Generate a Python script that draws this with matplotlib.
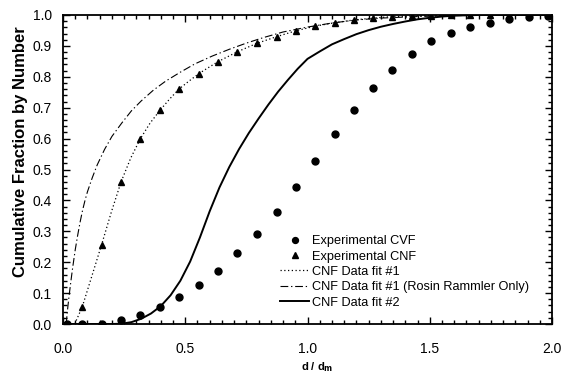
import matplotlib
matplotlib.use("Agg")
import matplotlib.pyplot as plt
from matplotlib.ticker import MultipleLocator, FormatStrFormatter
from matplotlib.legend_handler import HandlerLine2D

plt.rcParams['font.family'] = ['Liberation Sans', 'DejaVu Sans']

# Experimental cumulative fractions (volume and number) vs normalised diameter
d_exp = [0.016, 0.079, 0.158, 0.238, 0.316, 0.397, 0.474, 0.555, 0.634, 0.713,
         0.792, 0.874, 0.953, 1.032, 1.111, 1.190, 1.269, 1.347, 1.427, 1.506,
         1.586, 1.665, 1.745, 1.824, 1.905, 1.985]
cvf_exp = [0.0, 0.0, 0.001, 0.012, 0.029, 0.054, 0.086, 0.126, 0.172, 0.229,
           0.291, 0.362, 0.443, 0.528, 0.616, 0.694, 0.765, 0.822, 0.875, 0.917,
           0.943, 0.961, 0.975, 0.986, 0.993, 0.997]
cnf_exp = [0.0, 0.056, 0.257, 0.461, 0.599, 0.692, 0.760, 0.810, 0.849, 0.881,
           0.908, 0.930, 0.949, 0.964, 0.975, 0.984, 0.990, 0.995, 0.997, 0.998,
           0.999, 1.0, 1.0, 1.0, 1.0, 1.0]

# CNF fit #1
fit1_d = [0.048, 0.079, 0.118, 0.158, 0.198, 0.238, 0.277, 0.316, 0.356, 0.397,
          0.436, 0.474, 0.515, 0.555, 0.595, 0.634, 0.713, 0.792, 0.874, 0.953,
          1.032, 1.111, 1.190, 1.269, 1.347, 1.427, 1.506, 1.60, 1.80, 2.0]
fit1_f = [0.0, 0.056, 0.155, 0.257, 0.363, 0.461, 0.537, 0.599, 0.650, 0.692,
          0.728, 0.760, 0.786, 0.810, 0.830, 0.849, 0.881, 0.908, 0.930, 0.949,
          0.964, 0.975, 0.984, 0.990, 0.995, 0.997, 0.998, 0.999, 1.0, 1.0]

# CNF fit #1, Rosin-Rammler part only
rr_d = [0.013, 0.016, 0.020, 0.025, 0.030, 0.035, 0.040, 0.050, 0.060, 0.070,
        0.080, 0.090, 0.100, 0.120, 0.140, 0.170, 0.200, 0.240, 0.280, 0.320,
        0.370, 0.420, 0.480, 0.540, 0.610, 0.680, 0.750, 0.820, 0.900, 1.000,
        1.100, 1.200, 1.300, 1.450, 1.600, 1.800, 2.000]
rr_f = [0.0, 0.025, 0.057, 0.092, 0.124, 0.155, 0.185, 0.240, 0.287, 0.330,
        0.368, 0.400, 0.428, 0.474, 0.515, 0.565, 0.607, 0.650, 0.690, 0.722,
        0.757, 0.786, 0.815, 0.842, 0.867, 0.889, 0.909, 0.927, 0.945, 0.961,
        0.974, 0.984, 0.990, 0.995, 0.998, 1.0, 1.0]

# CNF fit #2
fit2_d = [0.0, 0.20, 0.24, 0.28, 0.32, 0.36, 0.40, 0.44, 0.48, 0.52,
          0.56, 0.60, 0.64, 0.68, 0.72, 0.76, 0.80, 0.84, 0.88, 0.92,
          0.96, 1.00, 1.05, 1.10, 1.15, 1.20, 1.25, 1.30, 1.35, 1.40,
          1.45, 1.50, 1.55, 1.60, 1.65, 1.70, 2.0]
fit2_f = [0.0, 0.0, 0.001, 0.006, 0.017, 0.034, 0.058, 0.093, 0.140, 0.202,
          0.280, 0.365, 0.442, 0.508, 0.566, 0.618, 0.665, 0.710, 0.752, 0.790,
          0.826, 0.858, 0.882, 0.905, 0.922, 0.938, 0.951, 0.962, 0.971, 0.979,
          0.986, 0.991, 0.995, 0.998, 0.999, 1.0, 1.0]

x_ticks = [0.0, 0.5, 1.0, 1.5, 2.0]
y_ticks = [0.0, 0.1, 0.2, 0.3, 0.4, 0.5, 0.6, 0.7, 0.8, 0.9, 1.0]


class LeftMarkerHandler(HandlerLine2D):
    """Legend handler that puts a single marker near the left of the handle."""

    def get_xdata(self, legend, xdescent, ydescent, width, height, fontsize):
        xdata, _ = super().get_xdata(legend, xdescent, ydescent, width,
                                     height, fontsize)
        return xdata, [-xdescent + 0.28 * width]


fig = plt.figure(figsize=(5.61, 3.76), dpi=100)
ax = fig.add_axes([63 / 561, 1 - 324 / 376, 489 / 561, 309 / 376])

h_cvf, = ax.plot(d_exp, cvf_exp, linestyle='none', marker='o', color='black',
                 markersize=5, label='Experimental CVF', zorder=4)
h_cnf, = ax.plot(d_exp, cnf_exp, linestyle='none', marker='^', color='black',
                 markersize=5, label='Experimental CNF', zorder=4)
ax.plot(fit1_d, fit1_f, color='black', linewidth=0.9,
        linestyle=(0, (1, 2)), label='CNF Data fit #1')
ax.plot(rr_d, rr_f, color='black', linewidth=0.8,
        linestyle=(0, (7, 2.5, 1.2, 2.5)),
        label='CNF Data fit #1 (Rosin Rammler Only)')
ax.plot(fit2_d, fit2_f, color='black', linewidth=1.4, label='CNF Data fit #2')

ax.set_xlim(0, 2.0)
ax.set_ylim(0, 1.0)
ax.set_xticks(x_ticks)
ax.set_yticks(y_ticks)
ax.xaxis.set_major_formatter(FormatStrFormatter('%.1f'))
ax.yaxis.set_major_formatter(FormatStrFormatter('%.1f'))
ax.xaxis.set_minor_locator(MultipleLocator(0.05))
ax.yaxis.set_minor_locator(MultipleLocator(0.02))
ax.tick_params(which='both', direction='in', top=True, right=True,
               width=1.0, colors='black')
ax.tick_params(which='major', length=5)
ax.tick_params(which='minor', length=3)
ax.tick_params(axis='x', which='major', pad=13, labelsize=10)
ax.tick_params(axis='y', which='major', pad=8, labelsize=10)
for s in ax.spines.values():
    s.set_linewidth(1.3)

ax.set_ylabel('Cumulative Fraction by Number', fontsize=12,
              fontweight='bold')
ax.yaxis.set_label_coords(-0.0706, 0.558)
ax.set_xlabel(r'd / d$_\mathbf{m}$', fontsize=8, fontweight='bold')
ax.xaxis.set_label_coords(0.52, -0.118)

ax.legend(loc='upper left', bbox_to_anchor=(0.4438, 0.287), frameon=False,
          fontsize=9.2, handlelength=2.27, handletextpad=0.23,
          labelspacing=0.26, borderpad=0, borderaxespad=0, numpoints=1,
          markerscale=0.85,
          handler_map={h_cvf: LeftMarkerHandler(),
                       h_cnf: LeftMarkerHandler()})

fig.savefig('out.png', dpi=100)
